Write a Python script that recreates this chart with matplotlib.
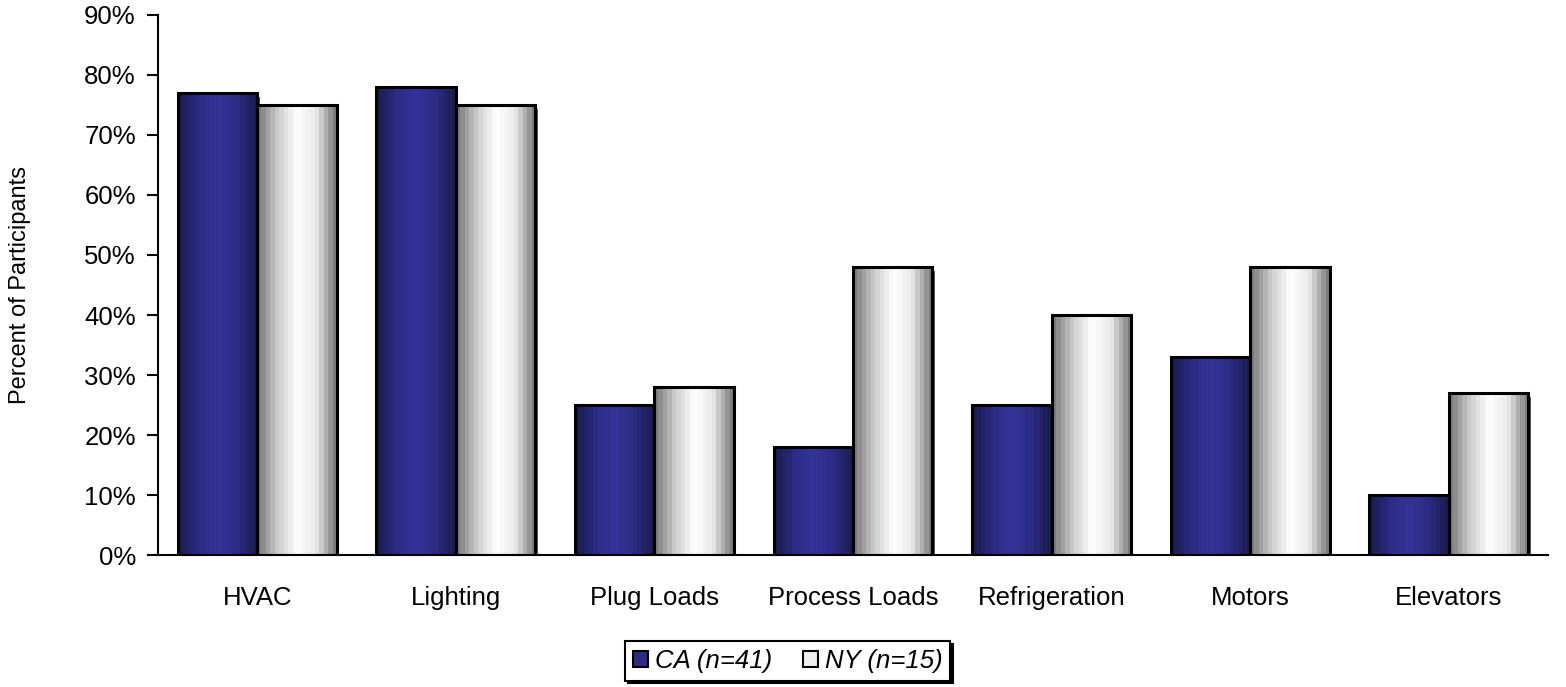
import matplotlib.pyplot as plt
import numpy as np
from matplotlib.patches import Patch
from matplotlib.colors import LinearSegmentedColormap

plt.rcParams['font.family'] = ['Liberation Sans', 'DejaVu Sans']

categorias = ['HVAC', 'Lighting', 'Plug Loads', 'Process Loads', 'Refrigeration', 'Motors', 'Elevators']
valores_ca = [77, 78, 25, 18, 25, 33, 10]
valores_ny = [75, 75, 28, 48, 40, 48, 27]
rotulo_ca = 'CA (n=41)'
rotulo_ny = 'NY (n=15)'

# degradês horizontais das barras (escuro nas bordas, claro no meio)
cmap_azul = LinearSegmentedColormap.from_list('azul', ['#1b1b4e', '#2c2c86', '#34349a', '#2c2c86', '#1b1b4e'])
cmap_cinza = LinearSegmentedColormap.from_list('cinza', ['#7c7c7c', '#cccccc', '#ffffff', '#eaeaea', '#7c7c7c'])

fig = plt.figure(figsize=(15.66, 6.87), dpi=100)
ax = fig.add_axes([0.1009, 0.1921, 0.8876, 0.7861])

x = np.arange(len(categorias))
largura = 0.4


def barras_com_degrade(ax, posicoes, valores, cmap):
    faixas = np.linspace(0, 1, 18)
    grad = np.tile(faixas, (2, 1))
    barras = ax.bar(posicoes, valores, largura, facecolor='none', edgecolor='black',
                    linewidth=2.2, zorder=4)
    for barra in barras:
        x0 = barra.get_x()
        x1 = x0 + barra.get_width()
        h = barra.get_height()
        # sombra à direita
        ax.bar(x0 + barra.get_width() / 2 + 0.012, h, barra.get_width(), bottom=-0.6,
               color='#555555', zorder=2, linewidth=0)
        img = ax.imshow(grad, cmap=cmap, extent=[x0, x1, 0, h], aspect='auto',
                        interpolation='nearest', zorder=3)
        img.set_clip_path(barra)
    return barras


barras_com_degrade(ax, x - largura / 2, valores_ca, cmap_azul)
barras_com_degrade(ax, x + largura / 2, valores_ny, cmap_cinza)

ax.set_xlim(-0.5, len(categorias) - 0.5)
ax.set_ylim(0, 90)
ax.set_yticks(np.arange(0, 91, 10))
ax.set_yticklabels([f'{v}%' for v in range(0, 91, 10)], fontsize=18.5)
ax.set_xticks(x)
ax.set_xticklabels(categorias, fontsize=18.5)
ax.tick_params(axis='x', length=0, pad=22)
ax.tick_params(axis='y', direction='out', length=8, width=1.5, pad=8)
ax.set_ylabel('Percent of Participants', fontsize=17, labelpad=38)

for lado in ['top', 'right']:
    ax.spines[lado].set_visible(False)
for lado in ['left', 'bottom']:
    ax.spines[lado].set_linewidth(1.5)
    ax.spines[lado].set_zorder(5)

handles = [Patch(facecolor='#2c2c86', edgecolor='black', linewidth=1.5),
           Patch(facecolor='#eeeeee', edgecolor='black', linewidth=1.5)]
leg = fig.legend(handles, [rotulo_ca, rotulo_ny], loc='center', bbox_to_anchor=(0.503, 0.038),
                 ncol=2, fancybox=False, shadow={'color': 'black', 'alpha': 1},
                 edgecolor='black', prop={'style': 'italic', 'size': 18.5},
                 handlelength=0.6, handleheight=0.6, handletextpad=0.25, columnspacing=1.2,
                 borderpad=0.3, framealpha=1)
leg.get_frame().set_linewidth(1.5)

fig.savefig('out.png', dpi=100)
